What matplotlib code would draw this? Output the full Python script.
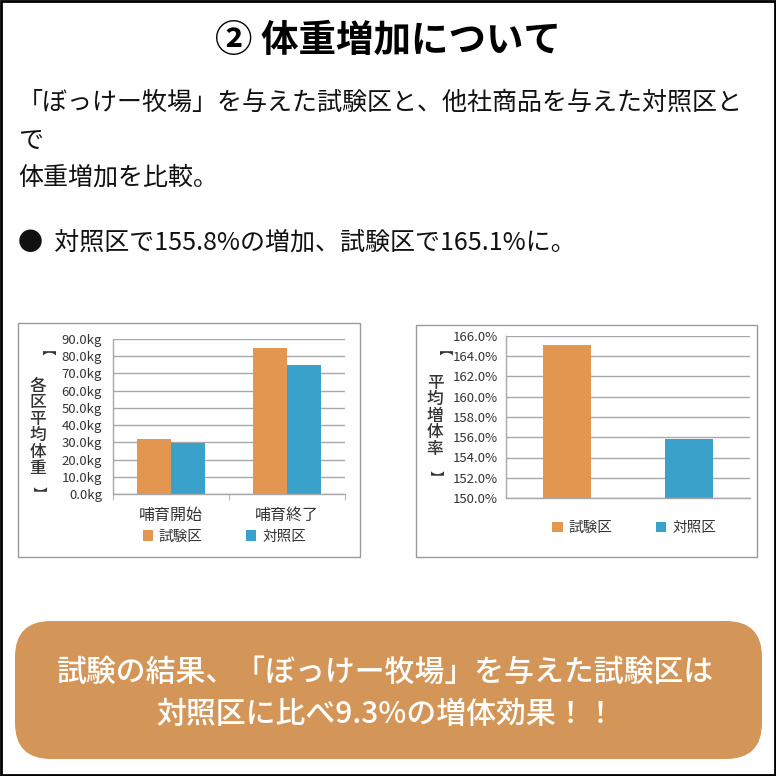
import matplotlib
matplotlib.use('Agg')
import matplotlib.pyplot as plt
from matplotlib.patches import Rectangle, FancyBboxPatch
import numpy as np

plt.rcParams['font.family'] = ['Noto Sans CJK JP', 'DejaVu Sans']

# data
stages = ['哺育開始', '哺育終了']
groups = ['試験区', '対照区']
weight_test = [32.0, 85.0]      # kg
weight_ctrl = [29.5, 75.0]      # kg
rate_values = [165.1, 155.8]    # %
weight_ticks = np.arange(0, 91, 10)
rate_ticks = np.arange(150, 167, 2)

orange = '#E3964F'
blue = '#3AA2CA'
grid_c = '#A8A8A8'
txt_c = '#333333'

fig = plt.figure(figsize=(7.76, 7.76), dpi=100)

# background layer in pixel coordinates (y down)
bg = fig.add_axes([0, 0, 1, 1], zorder=0)
bg.set_xlim(0, 776)
bg.set_ylim(776, 0)
bg.axis('off')
bg.add_patch(Rectangle((1, 1), 774, 774, fill=False, ec='black', lw=2))

bg.text(388, 40, '② 体重増加について', ha='center', va='center',
        fontsize=27, fontweight='bold', color='black')
bg.text(18, 103, '「ぼっけー牧場」を与えた試験区と、他社商品を与えた対照区と',
        ha='left', va='center', fontsize=18, color='#111111')
bg.text(18, 141, 'で', ha='left', va='center', fontsize=18, color='#111111')
bg.text(18, 178, '体重増加を比較。', ha='left', va='center', fontsize=18, color='#111111')
bg.text(18, 243, '●  対照区で155.8%の増加、試験区で165.1%に。',
        ha='left', va='center', fontsize=18, color='#111111')

# chart frames
bg.add_patch(Rectangle((18, 323), 342, 234, fill=False, ec='#9A9A9A', lw=1))
bg.add_patch(Rectangle((416, 325), 341, 232, fill=False, ec='#9A9A9A', lw=1))


def vertical_label(x, top, bottom, chars, first, step):
    bg.text(x, top, '【', rotation=-90, ha='center', va='center',
            fontsize=10, color=txt_c, fontweight='bold')
    for i, ch in enumerate(chars):
        bg.text(x, first + i * step, ch, ha='center', va='center',
                fontsize=12, color=txt_c, fontweight='medium')
    bg.text(x, bottom, '】', rotation=-90, ha='center', va='center',
            fontsize=10, color=txt_c, fontweight='bold')


vertical_label(38, 357, 493, '各区平均体重', 386, 16.4)
vertical_label(435, 357, 477, '平均増体率', 383, 16.4)

# conclusion box
bg.add_patch(FancyBboxPatch((15, 621), 747, 138,
                            boxstyle='round,pad=0,rounding_size=36',
                            fc='#D49658', ec='none'))
bg.text(386, 672, '試験の結果、「ぼっけー牧場」を与えた試験区は', ha='center',
        va='center', fontsize=21.5, color='white', fontweight='medium')
bg.text(386, 714, '対照区に比べ9.3%の増体効果！！', ha='center',
        va='center', fontsize=21.5, color='white', fontweight='medium')


def style_axes(ax):
    for s in ['top', 'right']:
        ax.spines[s].set_visible(False)
    for s in ['left', 'bottom']:
        ax.spines[s].set_color(grid_c)
        ax.spines[s].set_linewidth(1)
    ax.yaxis.grid(True, color=grid_c, lw=1)
    ax.set_axisbelow(True)
    ax.tick_params(axis='y', length=0, labelsize=9.5, labelcolor=txt_c)


# left chart: average weight
ax1 = fig.add_axes([113 / 776, 1 - 494 / 776, 232 / 776, 155 / 776], zorder=2)
ax1.patch.set_alpha(0)
x = np.arange(len(stages))
w = 0.29
ax1.bar(x - w / 2, weight_test, w, color=orange, label=groups[0])
ax1.bar(x + w / 2, weight_ctrl, w, color=blue, label=groups[1])
ax1.set_xlim(-0.5, 1.5)
ax1.set_ylim(0, 90)
ax1.set_yticks(weight_ticks)
ax1.set_yticklabels([f'{v:.1f}kg' for v in weight_ticks])
style_axes(ax1)
ax1.tick_params(axis='y', pad=8)
ax1.set_xticks(x)
ax1.set_xticklabels(stages, fontsize=11.5, color=txt_c)
ax1.tick_params(axis='x', length=0, pad=9)
ax1.set_xticks([-0.5, 0.5, 1.5], minor=True)
ax1.tick_params(axis='x', which='minor', length=4, color=grid_c)
ax1.legend(loc='center', bbox_to_anchor=(0.48, -0.275), ncol=2, frameon=False,
           prop={'size': 10.5}, handlelength=0.7, handleheight=0.7,
           handletextpad=0.4, columnspacing=3.0, labelcolor=txt_c)

# right chart: weight gain rate
ax2 = fig.add_axes([506 / 776, 1 - 498 / 776, 244 / 776, 162 / 776], zorder=2)
ax2.patch.set_alpha(0)
xr = np.arange(len(groups))
bars = ax2.bar(xr, rate_values, 0.39, color=[orange, blue])
ax2.set_xlim(-0.5, 1.5)
ax2.set_ylim(150, 166)
ax2.set_yticks(rate_ticks)
ax2.set_yticklabels([f'{v:.1f}%' for v in rate_ticks])
style_axes(ax2)
ax2.tick_params(axis='y', pad=6)
ax2.set_xticks([])
ax2.legend(bars, groups, loc='center', bbox_to_anchor=(0.525, -0.185), ncol=2,
           frameon=False, prop={'size': 10.5}, handlelength=0.7, handleheight=0.7,
           handletextpad=0.4, columnspacing=3.0, labelcolor=txt_c)

fig.savefig('out.png', dpi=100)
